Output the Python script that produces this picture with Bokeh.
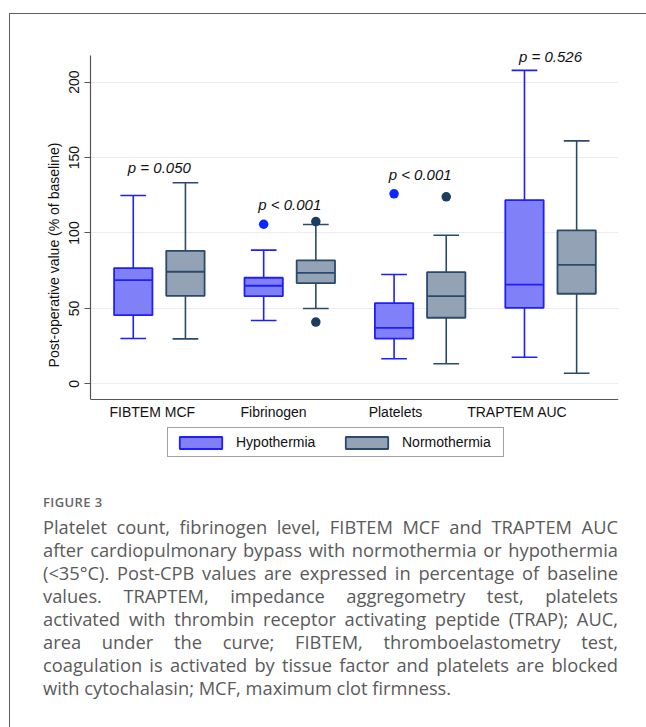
import numpy as np
from bokeh.plotting import figure
from bokeh.models import Range1d, FixedTicker, LabelSet, ColumnDataSource, Div
from bokeh.layouts import column, row
from bokeh.core.properties import value
from bokeh.embed import file_html
from bokeh.resources import INLINE

# ---------------- data ----------------
measures = ["FIBTEM MCF", "Fibrinogen", "Platelets", "TRAPTEM AUC"]

hypo_low = [30.0, 42.0, 16.6, 17.6]
hypo_q1 = [45.5, 58.1, 30.0, 50.4]
hypo_med = [68.7, 65.0, 37.1, 65.8]
hypo_q3 = [76.7, 70.3, 53.5, 121.8]
hypo_high = [124.9, 88.6, 72.5, 207.8]

normo_low = [29.8, 49.9, 13.3, 7.0]
normo_q1 = [58.3, 66.7, 43.8, 59.7]
normo_med = [74.3, 73.6, 58.1, 78.9]
normo_q3 = [88.2, 81.8, 74.0, 101.7]
normo_high = [133.3, 105.6, 98.5, 161.1]

hypo_out_group = ["Fibrinogen", "Platelets"]
hypo_out_val = [105.8, 126.0]
normo_out_group = ["Fibrinogen", "Fibrinogen", "Platelets"]
normo_out_val = [107.6, 40.9, 124.0]

p_text = ["p = 0.050", "p < 0.001", "p < 0.001", "p = 0.526"]
p_text_y = [143.6, 118.9, 138.6, 217.0]

y_ticks = [0, 50, 100, 150, 200]

caption_title = "FIGURE 3"
caption_lines = [
    "Platelet count, fibrinogen level, FIBTEM MCF and TRAPTEM AUC",
    "after cardiopulmonary bypass with normothermia or hypothermia",
    "(&lt;35°C). Post-CPB values are expressed in percentage of baseline",
    "values. TRAPTEM, impedance aggregometry test, platelets",
    "activated with thrombin receptor activating peptide (TRAP); AUC,",
    "area under the curve; FIBTEM, thromboelastometry test,",
    "coagulation is activated by tissue factor and platelets are blocked",
    "with cytochalasin; MCF, maximum clot firmness.",
]

# ---------------- styles ----------------
HYPO_FILL, HYPO_LINE, HYPO_DOT = "#8080f8", "#1e1eff", "#0a28ff"
NORMO_FILL, NORMO_LINE, NORMO_DOT = "#93a3b5", "#2a4a6c", "#1c3c60"
FONT = "Liberation Sans"
AXIS_COL = "#555555"
FRAME_COL = "#5f5f5f"

offset = 0.2
box_w = 0.294
cap_w = 0.197
Y_LO, Y_HI = -10.4, 217.7   # drawn extent of the value axis

idx = np.arange(len(measures))
pos = {m: i for i, m in enumerate(measures)}

p = figure(width=636, height=480, output_backend="svg", toolbar_location=None,
           x_range=Range1d(-0.528, 3.521), y_range=Range1d(-52.2, 223.0),
           min_border_left=80, min_border_right=28, min_border_top=33, min_border_bottom=32)
p.outline_line_color = None
p.background_fill_color = "white"
p.border_fill_color = "white"


def draw_group(xc, low, q1, med, q3, high, fill, line, label):
    src = ColumnDataSource(dict(x=xc, low=low, q1=q1, med=med, q3=q3, high=high,
                                cl=xc - cap_w / 2, cr=xc + cap_w / 2,
                                bl=xc - box_w / 2, br=xc + box_w / 2))
    p.segment("x", "q3", "x", "high", source=src, line_color=line, line_width=1.6)
    p.segment("x", "low", "x", "q1", source=src, line_color=line, line_width=1.6)
    p.segment("cl", "high", "cr", "high", source=src, line_color=line, line_width=1.6)
    p.segment("cl", "low", "cr", "low", source=src, line_color=line, line_width=1.6)
    p.vbar(x="x", bottom="q1", top="q3", width=box_w, source=src,
           fill_color=fill, line_color=line, line_width=1.8, legend_label=label)
    p.segment("bl", "med", "br", "med", source=src, line_color=line, line_width=1.8)


draw_group(idx - offset, hypo_low, hypo_q1, hypo_med, hypo_q3, hypo_high,
           HYPO_FILL, HYPO_LINE, "Hypothermia")
draw_group(idx + offset, normo_low, normo_q1, normo_med, normo_q3, normo_high,
           NORMO_FILL, NORMO_LINE, "Normothermia")

p.scatter([pos[g] - offset for g in hypo_out_group], hypo_out_val, size=9.5,
          fill_color=HYPO_DOT, line_color=None)
p.scatter([pos[g] + offset for g in normo_out_group], normo_out_val, size=9.5,
          fill_color=NORMO_DOT, line_color=None)

lab_src = ColumnDataSource(dict(x=idx.astype(float), y=p_text_y, t=p_text))
p.add_layout(LabelSet(x="x", y="y", text="t", source=lab_src, text_align="center",
                      text_baseline="middle", text_font=value(FONT),
                      text_font_size=value("15px"), text_font_style="italic",
                      text_color="#111111"))

# axes
p.yaxis.ticker = FixedTicker(ticks=y_ticks)
p.yaxis.bounds = (Y_LO, Y_HI)
p.yaxis.major_label_orientation = "vertical"
p.yaxis.major_tick_out = 6
p.yaxis.major_tick_in = 0
p.yaxis.minor_tick_out = 0
p.yaxis.minor_tick_in = 0
p.yaxis.major_label_standoff = 5
p.yaxis.axis_label = "Post-operative value (% of baseline)"
p.yaxis.axis_label_standoff = 5
p.yaxis.axis_label_text_font_style = "normal"

tick_pos = [-0.054, 0.876, 1.811, 2.745]
p.xaxis.fixed_location = Y_LO
p.xaxis.ticker = FixedTicker(ticks=tick_pos)
p.xaxis.major_label_overrides = {t: m for t, m in zip(tick_pos, measures)}
p.xaxis.major_tick_out = 0
p.xaxis.major_tick_in = 0
p.xaxis.minor_tick_out = 0
p.xaxis.minor_tick_in = 0
p.xaxis.major_label_standoff = 5

for ax in (p.xaxis[0], p.yaxis[0]):
    ax.axis_line_color = AXIS_COL
    ax.axis_line_width = 1.2
    ax.major_tick_line_color = AXIS_COL
    ax.major_tick_line_width = 1.2
    ax.major_label_text_font = FONT
    ax.major_label_text_font_size = "14px"
    ax.major_label_text_color = "#111111"
    ax.axis_label_text_font = FONT
    ax.axis_label_text_font_size = "14px"
    ax.axis_label_text_color = "#111111"

p.xgrid.grid_line_color = None
p.ygrid.ticker = FixedTicker(ticks=y_ticks)
p.ygrid.grid_line_color = "#e6eef1"
p.ygrid.grid_line_width = 1.2

lg = p.legend[0]
lg.location = (77, 5)
lg.orientation = "horizontal"
lg.margin = 0
lg.padding = 6
lg.spacing = 9
lg.glyph_width = 53
lg.glyph_height = 15
lg.label_height = 15
lg.label_width = 95
lg.label_standoff = 9
lg.label_text_font = FONT
lg.label_text_font_size = "14px"
lg.label_text_color = "#111111"
lg.border_line_color = "#444444"
lg.border_line_width = 1
lg.background_fill_alpha = 1

# frame lines (top and left) around the figure panel
top_line = Div(text=f'<div style="margin:13px 0 0 9px;height:1px;width:637px;background:{FRAME_COL};"></div>',
               width=646, height=14, margin=0)
left_line = Div(text=f'<div style="margin-left:9px;width:1px;height:480px;background:{FRAME_COL};"></div>',
                width=10, height=480, margin=0)

# caption
body = ""
for i, line in enumerate(caption_lines):
    last = i == len(caption_lines) - 1
    align = "left" if last else "justify"
    body += (f'<div style="white-space:nowrap;text-align:{align};'
             f'text-align-last:{align};">{line}</div>')
html = (
    f'<div style="position:relative;height:233px;">'
    f'<div style="position:absolute;left:9px;top:0;width:1px;height:233px;background:{FRAME_COL};"></div>'
    '<div style="box-sizing:content-box;font-family:\'Open Sans\';color:#5a5a5a;'
    'padding-left:43px;padding-top:0px;width:575px;">'
    f'<div style="font-size:13px;font-weight:600;letter-spacing:0.4px;line-height:17px;'
    f'color:#666666;margin-bottom:4px;">{caption_title}</div>'
    f'<div style="font-size:18.3px;line-height:23px;">{body}</div></div></div>'
)
cap = Div(text=html, width=646, height=233, margin=0)

layout = column(top_line, row(left_line, p), cap)

open("out.html", "w").write(file_html(layout, INLINE))
